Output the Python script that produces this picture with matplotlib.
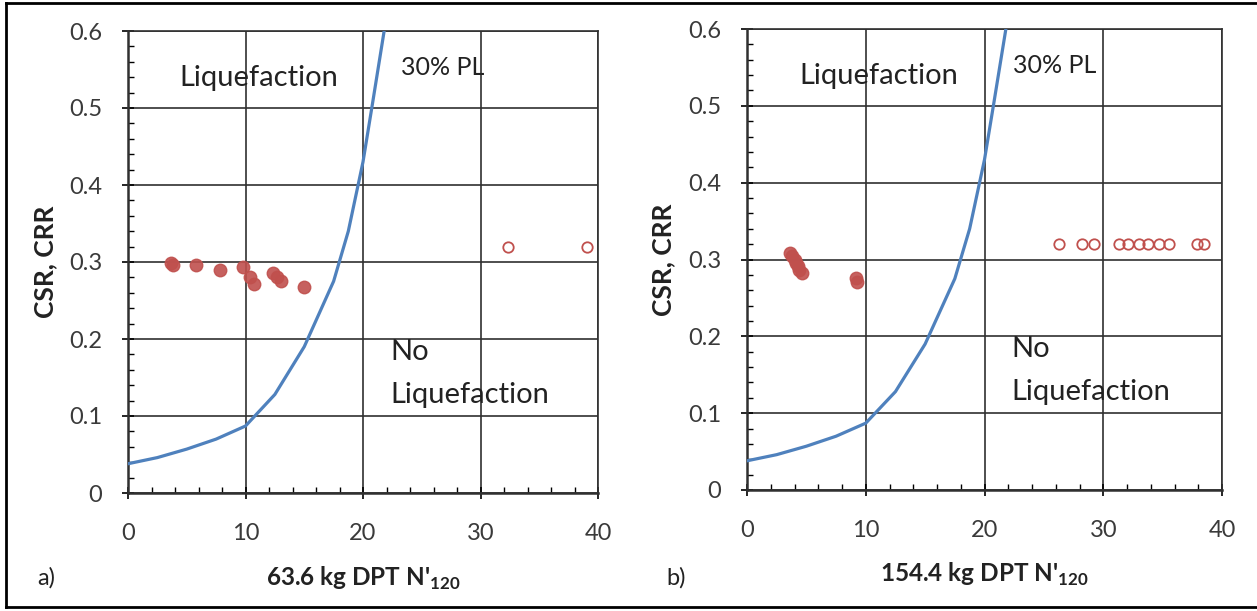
import numpy as np
import matplotlib.pyplot as plt
from matplotlib.lines import Line2D
from matplotlib.ticker import FixedLocator, MultipleLocator

plt.rcParams['font.family'] = ['Lato', 'DejaVu Sans']
plt.rcParams['mathtext.fontset'] = 'custom'
plt.rcParams['mathtext.rm'] = 'Lato'
plt.rcParams['mathtext.bf'] = 'Lato:bold'

# 30% PL boundary curve (same in both panels)
curve_n = [0, 2.5, 5, 7.5, 10, 12.5, 15, 17.5, 18.75, 20, 20.8, 21.8]
curve_csr = [0.038, 0.046, 0.057, 0.070, 0.087, 0.128, 0.19, 0.275, 0.34, 0.43, 0.505, 0.6]

# panel a) 63.6 kg DPT
a_liq_n = [3.7, 3.8, 5.8, 7.8, 9.8, 10.4, 10.7, 12.3, 12.7, 13.0, 15.0]
a_liq_csr = [0.299, 0.296, 0.296, 0.290, 0.294, 0.280, 0.272, 0.286, 0.280, 0.275, 0.268]
a_noliq_n = [32.3, 39.1]
a_noliq_csr = [0.32, 0.32]

# panel b) 154.4 kg DPT
b_liq_n = [3.6, 3.8, 4.0, 4.1, 4.3, 4.4, 4.6, 9.2, 9.3]
b_liq_csr = [0.309, 0.305, 0.300, 0.296, 0.291, 0.286, 0.282, 0.276, 0.271]
b_noliq_n = [26.3, 28.2, 29.2, 31.3, 32.1, 33.0, 33.8, 34.7, 35.5, 37.9, 38.5]
b_noliq_csr = [0.32] * 11

y_ticks = [0, 0.1, 0.2, 0.3, 0.4, 0.5, 0.6]
y_tick_labels = ['0', '0.1', '0.2', '0.3', '0.4', '0.5', '0.6']
x_ticks = [0, 10, 20, 30, 40]

W, H = 1257, 611
panels = [
    dict(pos=[128 / W, (H - 493) / H, 470 / W, 462 / H], liq=(a_liq_n, a_liq_csr),
         noliq=(a_noliq_n, a_noliq_csr), xlabel=r"63.6 kg DPT N'$_{\mathbf{120}}$",
         tag='a)', tag_x=37 / W, pl_x=23.2),
    dict(pos=[747 / W, (H - 490) / H, 475 / W, 461 / H], liq=(b_liq_n, b_liq_csr),
         noliq=(b_noliq_n, b_noliq_csr), xlabel=r"154.4 kg DPT N'$_{\mathbf{120}}$",
         tag='b)', tag_x=666 / W, pl_x=22.4),
]

red = '#C0504D'
blue = '#4F81BD'
grey = '#3A3A3A'
txt = '#222222'

fig = plt.figure(figsize=(W / 100, H / 100), dpi=100)

# outer frame (left, top, bottom)
fig.add_artist(Line2D([6 / W, 6 / W], [(H - 3) / H, (H - 607) / H], color='black', lw=2))
fig.add_artist(Line2D([6 / W, 1], [(H - 3) / H, (H - 3) / H], color='black', lw=2))
fig.add_artist(Line2D([6 / W, 1], [(H - 607) / H, (H - 607) / H], color='black', lw=2))

for p in panels:
    ax = fig.add_axes(p['pos'])
    ax.plot(curve_n, curve_csr, color=blue, lw=2.3, zorder=3)
    ax.plot(*p['liq'], 'o', color=red, ms=9, alpha=0.9, zorder=4)
    ax.plot(*p['noliq'], 'o', mfc='none', mec=red, ms=7.5, mew=1.3, zorder=4)

    ax.set_xlim(0, 40)
    ax.set_ylim(0, 0.6)
    ax.xaxis.set_major_locator(FixedLocator(x_ticks))
    ax.xaxis.set_minor_locator(MultipleLocator(2))
    ax.set_yticks(y_ticks, y_tick_labels)
    ax.yaxis.set_minor_locator(MultipleLocator(0.02))
    ax.grid(True, which='major', color='#303030', lw=1.2)
    for s in ax.spines.values():
        s.set_color('#303030')
        s.set_linewidth(1.2)
    ax.spines['left'].set_linewidth(1.8)
    ax.spines['bottom'].set_linewidth(1.8)
    ax.tick_params(axis='both', which='major', direction='inout', length=9, width=1.2,
                   labelsize=17, labelcolor=grey)
    ax.tick_params(axis='x', which='major', pad=17)
    ax.tick_params(axis='y', which='major', pad=14)
    ax.tick_params(axis='both', which='minor', direction='in', length=4.5, width=1.0)

    ax.set_ylabel('CSR, CRR', fontsize=19, fontweight='bold', color=txt, va='center')
    ax.yaxis.set_label_coords(-0.176, 0.5)
    ax.set_xlabel(p['xlabel'], fontsize=17.5, fontweight='bold', color=txt, va='center')
    ax.xaxis.set_label_coords(0.5, -0.184)

    ax.text(4.4, 0.539, 'Liquefaction', fontsize=21, va='center', color=txt)
    ax.text(p['pl_x'], 0.553, '30% PL', fontsize=18, va='center', color=txt)
    ax.text(22.3, 0.183, 'No', fontsize=21, va='center', color=txt)
    ax.text(22.3, 0.127, 'Liquefaction', fontsize=21, va='center', color=txt)

    fig.text(p['tag_x'], (H - 578) / H, p['tag'], fontsize=17, color=txt, va='center')

fig.savefig('out.png', dpi=100)
